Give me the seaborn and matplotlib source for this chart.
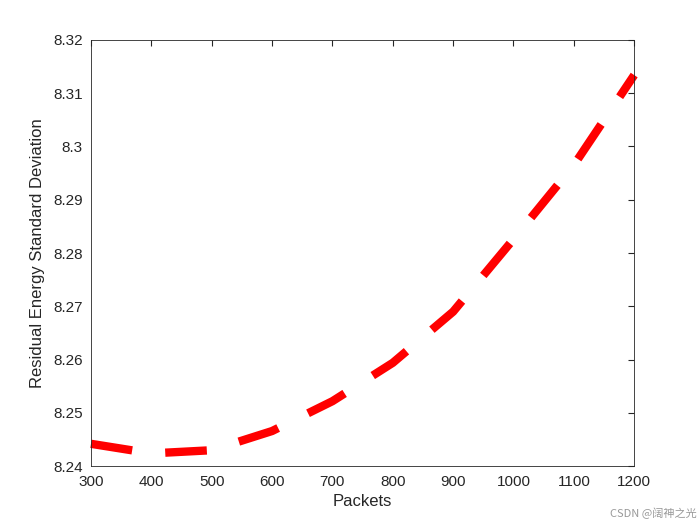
import matplotlib
matplotlib.use("Agg")
import matplotlib.pyplot as plt
import seaborn as sns
import pandas as pd

packets = [300, 400, 500, 600, 700, 800, 900, 1000, 1100, 1200]
std_dev = [8.2442, 8.2424, 8.2430, 8.2466, 8.2522, 8.2594, 8.2690, 8.2826, 8.2965, 8.3134]

sns.set_style("white")
plt.rcParams['font.family'] = ['Liberation Sans', 'Noto Sans CJK SC']

fig = plt.figure(figsize=(7, 5.25), dpi=100)
ax = fig.add_axes([0.13, 0.112, 0.776, 0.812])
df = pd.DataFrame({"Packets": packets, "v": std_dev})
sns.lineplot(data=df, x="Packets", y="v", ax=ax, color="red", linewidth=6,
             linestyle=(0, (5, 4)), clip_on=False)
ax.set_xlim(300, 1200)
ax.set_ylim(8.24, 8.32)
ax.set_xticks(range(300, 1201, 100))
ax.set_yticks([8.24 + 0.01 * i for i in range(9)])
ax.set_yticklabels(["8.24", "8.25", "8.26", "8.27", "8.28", "8.29", "8.3", "8.31", "8.32"])
ax.tick_params(direction="in", top=True, right=True, labelsize=11, colors="#262626", length=4, pad=6)
for s in ax.spines.values():
    s.set_color("#262626"); s.set_linewidth(0.6)
ax.set_xlabel("Packets", fontsize=12, color="#262626", labelpad=4)
ax.set_ylabel("Residual Energy Standard Deviation", fontsize=12, color="#262626", labelpad=6)
fig.text(0.995, 0.012, "CSDN @阔神之光", ha="right", va="bottom", fontsize=8, color="#999999",
         family=['Noto Sans CJK SC', 'DejaVu Sans'])
fig.savefig("out.png", dpi=100)
